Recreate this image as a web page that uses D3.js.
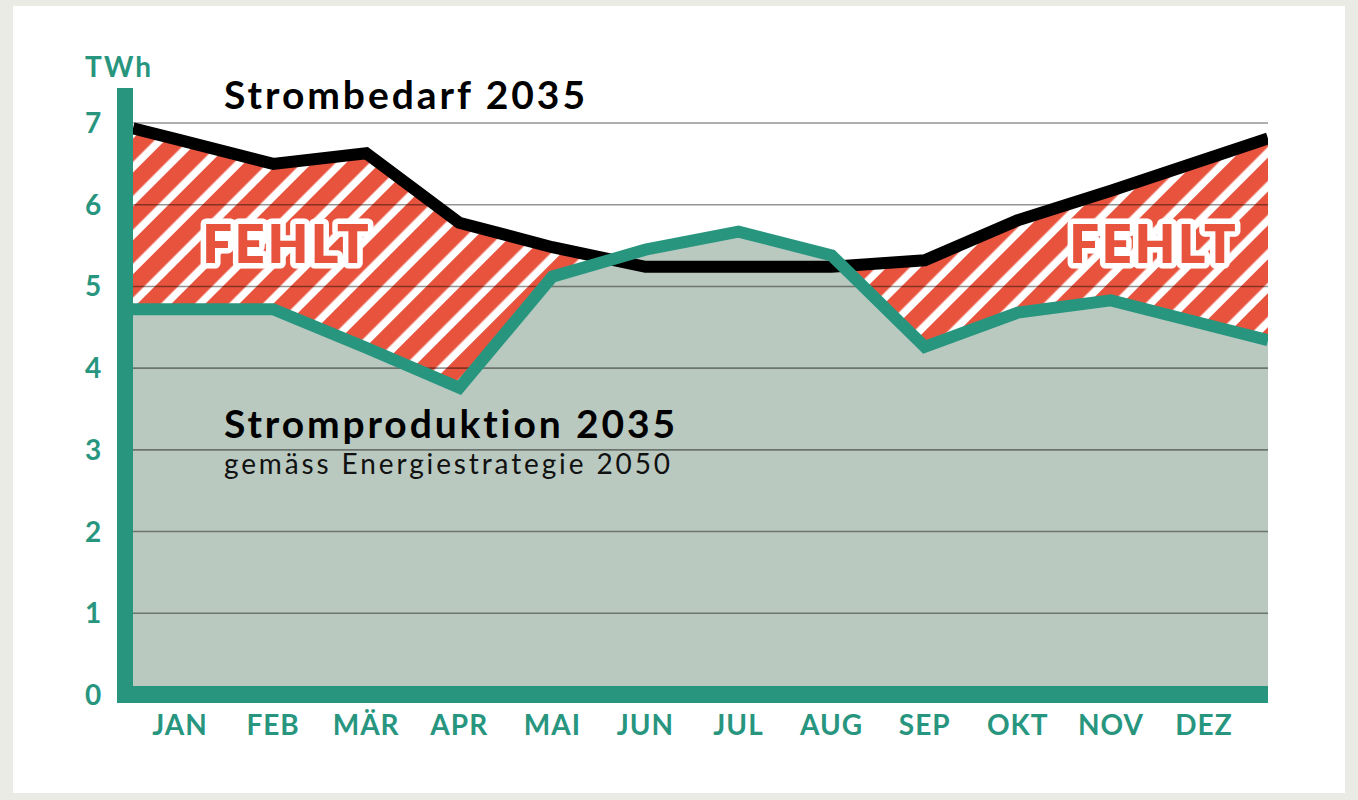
<!DOCTYPE html>
<meta charset="utf-8">
<style>
body { margin: 0; background: #ebebe6; }
text { font-family: Lato, "Open Sans", sans-serif; font-variant-ligatures: none; }
</style>
<svg></svg>
<script src="https://cdn.jsdelivr.net/npm/d3@7"></script>
<script>

var months = ["JAN", "FEB", "MÄR", "APR", "MAI", "JUN", "JUL", "AUG", "SEP", "OKT", "NOV", "DEZ"];
// TWh
var bedarf = [6.79, 6.50, 6.63, 5.78, 5.48, 5.24, 5.24, 5.24, 5.32, 5.81, 6.17, 6.55];
var produktion = [4.72, 4.72, 4.25, 3.76, 5.12, 5.45, 5.67, 5.38, 4.26, 4.68, 4.83, 4.54];
var yTicks = [0, 1, 2, 3, 4, 5, 6, 7];

var width = 1358,
    height = 800;

var teal = "#28967f",
    red = "#e8533e",
    sage = "#b9c9c0";

var left = 133, right = 1268;

var svg = d3.select("svg")
    .attr("width", width)
    .attr("height", height);

svg.append("rect")
    .attr("x", 13).attr("y", 6)
    .attr("width", 1332).attr("height", 787)
    .attr("fill", "#fff");

var x = d3.scalePoint()
    .domain(months)
    .range([180, 1204]);

var y = d3.scaleLinear()
    .domain([0, 7])
    .range([695, 123]);

var defs = svg.append("defs");

var pat = defs.append("pattern")
    .attr("id", "hatch")
    .attr("patternUnits", "userSpaceOnUse")
    .attr("width", 24)
    .attr("height", 24)
    .attr("patternTransform", "rotate(45)");
pat.append("rect").attr("width", 24).attr("height", 24).attr("fill", "#fff");
pat.append("rect").attr("width", 16.5).attr("height", 24).attr("fill", red);

defs.append("clipPath")
    .attr("id", "plot")
  .append("rect")
    .attr("x", left).attr("y", 0)
    .attr("width", right - left).attr("height", height);

// points for a series, with the end segments run out to the frame edges
function points(values) {
  var pts = values.map(function(v, i) { return [x(months[i]), y(v)]; });
  var a = pts[0], b = pts[1];
  var k = (b[1] - a[1]) / (b[0] - a[0]);
  pts.unshift([left, a[1] + k * (left - a[0])]);
  var n = pts.length;
  a = pts[n - 2]; b = pts[n - 1];
  k = (b[1] - a[1]) / (b[0] - a[0]);
  pts.push([right, b[1] + k * (right - b[0])]);
  return pts;
}

var bedarfPts = points(bedarf),
    prodPts = points(produktion);

var area = d3.area()
    .x(function(d) { return d[0]; })
    .y0(y(0))
    .y1(function(d) { return d[1]; });

var line = d3.line();

var g = svg.append("g").attr("clip-path", "url(#plot)");

g.append("path")
    .attr("d", area(bedarfPts))
    .attr("fill", "url(#hatch)");

g.append("path")
    .attr("d", area(prodPts))
    .attr("fill", sage);

// grid
g.append("g")
  .selectAll("line")
  .data(yTicks.slice(1))
  .enter().append("line")
    .attr("x1", left)
    .attr("x2", right)
    .attr("y1", function(d) { return y(d); })
    .attr("y2", function(d) { return y(d); })
    .attr("stroke", "#000")
    .attr("stroke-opacity", 0.42)
    .attr("stroke-width", 1.6);

g.append("path")
    .attr("d", line(bedarfPts))
    .attr("fill", "none")
    .attr("stroke", "#000")
    .attr("stroke-width", 12);

g.append("path")
    .attr("d", line(prodPts))
    .attr("fill", "none")
    .attr("stroke", teal)
    .attr("stroke-width", 12);

// axis bars
svg.append("rect")
    .attr("x", 117)
    .attr("y", 88)
    .attr("width", 16)
    .attr("height", y(0) + 8 - 88)
    .attr("fill", teal);

svg.append("rect")
    .attr("x", 117)
    .attr("y", y(0) - 9)
    .attr("width", right - 117)
    .attr("height", 17)
    .attr("fill", teal);

// y labels
svg.append("g")
  .selectAll("text")
  .data(yTicks)
  .enter().append("text")
    .attr("x", 93)
    .attr("y", function(d) { return y(d) + 10; })
    .attr("text-anchor", "middle")
    .attr("fill", teal)
    .attr("font-size", 28)
    .attr("font-weight", 700)
    .text(function(d) { return d; });

svg.append("text")
    .attr("x", 85)
    .attr("y", 77)
    .attr("fill", teal)
    .attr("font-size", 28)
    .attr("font-weight", 700)
    .attr("textLength", 66)
    .text("TWh");

// month labels
svg.append("g")
  .selectAll("text")
  .data(months)
  .enter().append("text")
    .attr("x", function(d) { return x(d); })
    .attr("y", 735)
    .attr("text-anchor", "middle")
    .attr("fill", teal)
    .attr("font-size", 28)
    .attr("font-weight", 700)
    .attr("letter-spacing", 1)
    .text(function(d) { return d; });

// series labels
svg.append("text")
    .attr("x", 224).attr("y", 109)
    .attr("font-size", 39)
    .attr("font-weight", 700)
    .attr("textLength", 361)
    .text("Strombedarf 2035");

svg.append("text")
    .attr("x", 224).attr("y", 438)
    .attr("font-size", 39)
    .attr("font-weight", 700)
    .attr("textLength", 451)
    .text("Stromproduktion 2035");

svg.append("text")
    .attr("x", 224).attr("y", 474)
    .attr("font-size", 28)
    .attr("fill", "#111")
    .attr("textLength", 446)
    .text("gemäss Energiestrategie 2050");

// FEHLT
svg.append("g")
  .selectAll("text")
  .data([287, 1154])
  .enter().append("text")
    .attr("x", function(d) { return d; })
    .attr("y", 263)
    .attr("text-anchor", "middle")
    .attr("font-size", 52)
    .attr("font-weight", 800)
    .attr("letter-spacing", 3)
    .attr("fill", red)
    .attr("stroke", "#fff")
    .attr("stroke-width", 11)
    .attr("stroke-linejoin", "round")
    .attr("paint-order", "stroke")
    .text("FEHLT");

</script>
